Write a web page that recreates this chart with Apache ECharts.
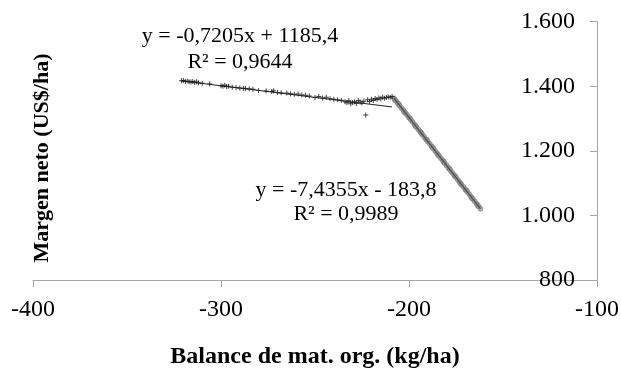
<!DOCTYPE html>
<html>
<head>
<meta charset="utf-8">
<script src="https://cdn.jsdelivr.net/npm/echarts@6/dist/echarts.min.js"></script>
<style>
  html, body { margin: 0; padding: 0; background: #fff; }
  #chart { width: 621px; height: 369px; }
</style>
</head>
<body>
<div id="chart"></div>
<script>
// Organic matter balance (kg/ha) vs. net margin (US$/ha)
// Segment 1: flat-ish section
const balanceA = [-321, -320, -319, -318, -317, -316, -315, -314, -313, -312, -310, -306, -300, -299, -298, -297,
  -296, -294, -292, -290, -288, -287, -285, -283, -280, -276, -273, -272, -270, -268, -265, -263, -261, -259,
  -257, -255, -253, -250, -248, -246, -244, -242, -240, -238, -236, -234, -233, -232, -231, -230, -229, -228,
  -227, -226, -225, -224, -223, -222, -221, -220, -219, -218, -217, -216, -215, -214, -213, -212, -211, -210, -209];
const marginA = [1417, 1418, 1415, 1416, 1414, 1413, 1415, 1412, 1414, 1411, 1409, 1407, 1402, 1400, 1403, 1399,
  1400, 1397, 1396, 1395, 1394, 1393, 1392, 1391, 1387, 1385, 1384, 1386, 1381, 1380, 1379, 1377, 1375, 1376,
  1373, 1372, 1370, 1365, 1368, 1364, 1366, 1361, 1360, 1358, 1357, 1352, 1349, 1355, 1346, 1350, 1352, 1347,
  1356, 1351, 1348, 1354, 1311, 1358, 1353, 1360, 1356, 1362, 1359, 1364, 1361, 1366, 1363, 1365, 1367, 1366, 1368];

// Segment 2: steep section
const balanceB = [-208, -207.5, -207, -206, -205.5, -205, -204, -203, -202.5, -202, -201, -200, -199.5, -199, -198,
  -197, -196.5, -196, -195, -194, -193.5, -193, -192, -191, -190.5, -190, -189, -188, -187.5, -187, -186, -185,
  -184.5, -184, -183, -182, -181.5, -181, -180, -179, -178.5, -178, -177, -176, -175.5, -175, -174, -173, -172.5,
  -172, -171, -170, -169.5, -169, -168, -167, -166.5, -166, -165, -164, -163.5, -163, -162];
const marginB = [1363, 1358, 1355, 1348, 1345, 1340, 1333, 1326, 1320, 1318, 1311, 1303, 1301, 1296, 1289,
  1281, 1276, 1274, 1266, 1259, 1256, 1251, 1244, 1236, 1234, 1229, 1222, 1214, 1211, 1207, 1199, 1192,
  1187, 1184, 1177, 1170, 1166, 1162, 1155, 1147, 1145, 1140, 1132, 1125, 1121, 1118, 1110, 1103, 1098,
  1095, 1088, 1080, 1078, 1073, 1066, 1058, 1053, 1051, 1043, 1036, 1031, 1028, 1021];

// Fitted linear trends (slope, intercept) as printed on the chart
const fitA = { slope: -0.7205, intercept: 1185.4, r2: '0,9644' };
const fitB = { slope: -7.4355, intercept: -183.8, r2: '0,9989' };

const xTicks = [-400, -300, -200, -100];
const yTicks = [800, 1000, 1200, 1400, 1600];

const fmtNum = (v, d) => v.toFixed(d).replace('.', ',');
const eqText = f => 'y = ' + fmtNum(f.slope, 4) + 'x ' + (f.intercept < 0 ? '- ' : '+ ') + fmtNum(Math.abs(f.intercept), 1);
const thousands = v => v >= 1000 ? Math.floor(v / 1000) + '.' + String(v % 1000).padStart(3, '0') : String(v);

function pairs(xs, ys) { return xs.map((x, i) => [x, ys[i]]); }
function trend(f, xs) {
  const lo = Math.min(...xs), hi = Math.max(...xs);
  return [[lo, f.slope * lo + f.intercept], [hi, f.slope * hi + f.intercept]];
}

const serif = 'Liberation Serif';
const axisGray = '#a6a6a6';
const plusMark = 'path://M0,2H2V0H3V2H5V3H3V5H2V3H0Z';
const tickRich = { t: { fontFamily: serif, fontSize: 24, color: '#000' } };

const chart = echarts.init(document.getElementById('chart'), null, { renderer: 'canvas' });
chart.setOption({
  animation: false,
  backgroundColor: '#ffffff',
  textStyle: { fontFamily: serif, color: '#000' },
  grid: { left: 33, right: 24, top: 21.7, bottom: 89, containLabel: false, outerBoundsMode: 'none' },
  xAxis: {
    type: 'value', min: xTicks[0], max: xTicks[xTicks.length - 1], interval: 100,
    axisLine: { show: true, onZero: false, lineStyle: { color: axisGray, width: 1 } },
    axisTick: { show: true, length: 7, lineStyle: { color: axisGray } },
    axisLabel: { color: '#000', fontFamily: serif, fontSize: 24, margin: 18,
      formatter: v => '{t|' + v + '}', rich: tickRich },
    splitLine: { show: false },
    name: 'Balance de mat. org. (kg/ha)',
    nameLocation: 'middle', nameGap: 65,
    nameTextStyle: { color: '#000', fontFamily: serif, fontSize: 24, fontWeight: 'bold' }
  },
  yAxis: {
    type: 'value', position: 'right', min: yTicks[0], max: yTicks[yTicks.length - 1], interval: 200,
    axisLine: { show: true, lineStyle: { color: axisGray, width: 1 } },
    axisTick: { show: true, inside: true, length: 7, lineStyle: { color: axisGray } },
    axisLabel: {
      inside: true, margin: 22, color: '#000', fontFamily: serif, fontSize: 24,
      formatter: v => '{t|' + thousands(v) + '}', rich: tickRich
    },
    splitLine: { show: false }
  },
  graphic: [
    { type: 'text', x: 42, y: 158, rotation: Math.PI / 2,
      style: { text: 'Margen neto (US$/ha)', font: 'bold 22px ' + serif, fill: '#000', align: 'center', verticalAlign: 'middle' } },
    { type: 'text', x: 240, y: 36,
      style: { text: eqText(fitA), font: '22px ' + serif, fill: '#000', align: 'center', verticalAlign: 'middle' } },
    { type: 'text', x: 240, y: 62,
      style: { text: 'R² = ' + fitA.r2, font: '22px ' + serif, fill: '#000', align: 'center', verticalAlign: 'middle' } },
    { type: 'text', x: 346, y: 190,
      style: { text: eqText(fitB), font: '22px ' + serif, fill: '#000', align: 'center', verticalAlign: 'middle' } },
    { type: 'text', x: 346, y: 214,
      style: { text: 'R² = ' + fitB.r2, font: '22px ' + serif, fill: '#000', align: 'center', verticalAlign: 'middle' } }
  ],
  series: [
    { type: 'scatter', data: pairs(balanceB, marginB), symbol: 'circle', symbolSize: 5,
      itemStyle: { color: '#9a9a9a', borderColor: '#6e6e6e', borderWidth: 0.6 } },
    { type: 'line', data: trend(fitB, balanceB), symbol: 'none',
      lineStyle: { color: '#555', width: 1.4 } },
    { type: 'scatter', data: pairs(balanceA, marginA), symbol: plusMark, symbolSize: 5,
      itemStyle: { color: '#111' } },
    { type: 'line', data: trend(fitA, balanceA), symbol: 'none',
      lineStyle: { color: '#222', width: 1 } }
  ]
});
</script>
</body>
</html>
